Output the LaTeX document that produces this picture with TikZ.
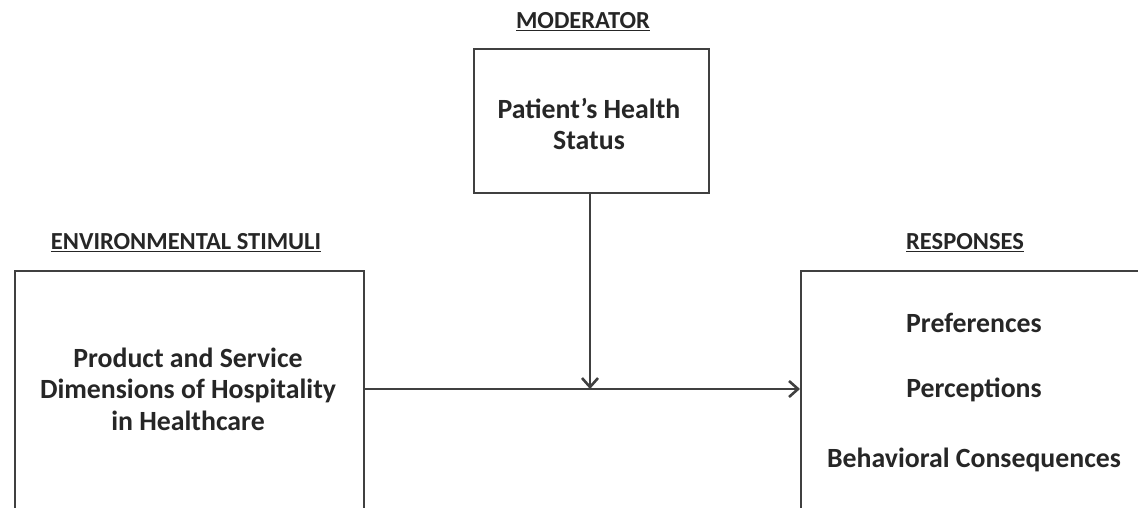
\documentclass[tikz,border=0pt]{standalone}
\usepackage{fontspec}
\setmainfont{Carlito}
\usetikzlibrary{arrows.meta}
\begin{document}
\begin{tikzpicture}[x=1pt,y=-1pt,
  box/.style={draw=black!75, line width=2pt, inner sep=0pt},
  lbl/.style={font=\bfseries\fontsize{24.5}{28}\selectfont, text=black!85, inner sep=0pt},
  body/.style={font=\bfseries\fontsize{27.8}{31.5}\selectfont, text=black!85, align=center, inner sep=0pt},
  conn/.style={draw=black!75, line width=2pt, -{Straight Barb[length=9pt,width=16pt,line width=2.6pt]}}]
\useasboundingbox (0,0) rectangle (1138,508);
\clip (0,0) rectangle (1138,508);
% boxes
\node[box, minimum width=349pt, minimum height=300pt, anchor=north west] (stim) at (13.5,270) {};
\node[box, minimum width=235pt, minimum height=144pt, anchor=north west] (mod) at (472.5,48) {};
\node[box, minimum width=360pt, minimum height=300pt, anchor=north west] (resp) at (800,270) {};
% labels
\node[lbl] (lmod) at (583,22) {\underline{MODERATOR}};
\node[lbl] (lstim) at (186,243) {\underline{ENVIRONMENTAL STIMULI}};
\node[lbl] (lresp) at (965,243) {\underline{RESPONSES}};
% texts
\node[body] (tmod) at (589,124) {Patient’s Health\\Status};
\node[body] (tstim) at (188,389) {Product and Service\\Dimensions of Hospitality\\in Healthcare};
\node[body] (tp1) at (974,323) {Preferences};
\node[body] (tp2) at (974,390) {Perceptions};
\node[body] (tp3) at (974,460) {Behavioral Consequences};
% connectors
\coordinate (join) at (590,389);
\draw[conn] (stim.east |- join) -- (resp.west |- join);
\draw[conn] (mod.south -| join) -- (join);
\end{tikzpicture}
\end{document}
